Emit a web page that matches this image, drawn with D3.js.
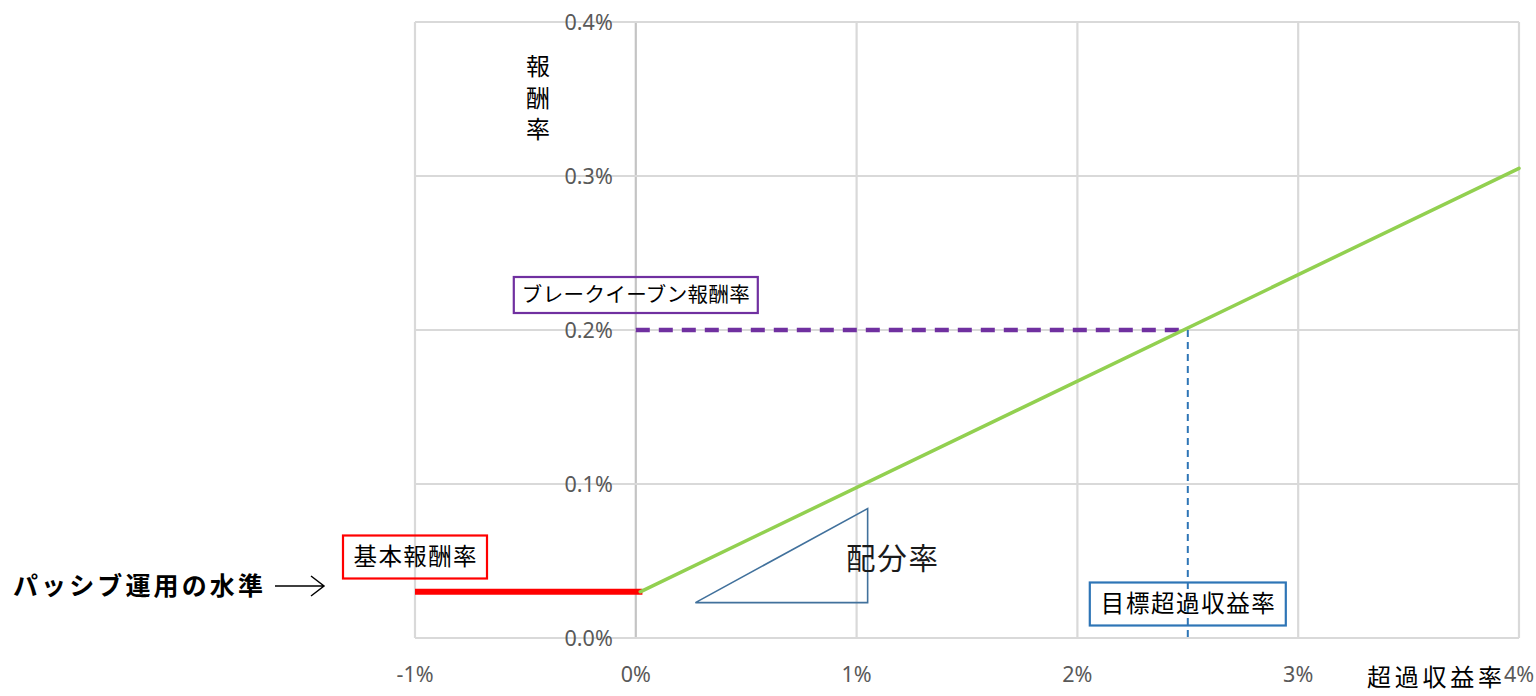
<!DOCTYPE html>
<html>
<head>
<meta charset="UTF-8">
<style>
  body { margin: 0; background: #fff; }
  svg { display: block; }
  .tick { font-family: "Noto Sans", "Open Sans", sans-serif; font-size: 21.5px; fill: #595959; }
  .jp { font-family: "Noto Sans CJK JP", sans-serif; fill: #000; }
</style>
</head>
<body>
<svg width="1536" height="696"></svg>
<script src="https://d3js.org/d3.v7.min.js"></script>
<script>
// ticks (%)
const xTicks = [-1, 0, 1, 2, 3, 4];
const yTicks = [0, 0.1, 0.2, 0.3, 0.4];
const xTickLabels = ["-1%", "0%", "1%", "2%", "3%", "4%"];
const yTickLabels = ["0.0%", "0.1%", "0.2%", "0.3%", "0.4%"];

// series: [excess return %, fee rate %]
const baseFee = [[-1, 0.03], [0.03, 0.03]];
const feeLine = [[0.02, 0.03], [4, 0.305]];
const breakEven = [[0, 0.2], [2.5, 0.2]];
const targetExcess = [[2.5, 0.2], [2.5, 0]];
const slopeTriangle = [[0.27, 0.023], [1.05, 0.084], [1.05, 0.023]];

let width = 1536
let height = 696
let svg = d3.select("svg")

let x = d3.scaleLinear().domain([-1, 4]).range([415, 1519])
let y = d3.scaleLinear().domain([0, 0.4]).range([638, 22])

let line = d3.line().x(d => x(d[0])).y(d => y(d[1]))

// grid
svg.append("g").selectAll("line")
  .data(xTicks)
  .enter().append("line")
  .attr("x1", d => x(d)).attr("x2", d => x(d))
  .attr("y1", y(0.4)).attr("y2", y(0))
  .style("stroke", d => d === 0 ? "#c4c4c4" : "#d9d9d9")
  .style("stroke-width", 2.2)

svg.append("g").selectAll("line")
  .data(yTicks)
  .enter().append("line")
  .attr("x1", x(-1)).attr("x2", x(4))
  .attr("y1", d => y(d)).attr("y2", d => y(d))
  .style("stroke", "#d9d9d9")
  .style("stroke-width", 2.2)

// tick labels
svg.append("g").selectAll("text")
  .data(yTicks)
  .enter().append("text")
  .attr("class", "tick")
  .attr("x", x(0) - 23)
  .attr("y", d => y(d))
  .attr("dy", "0.35em")
  .attr("text-anchor", "end")
  .text((d, i) => yTickLabels[i])

svg.append("g").selectAll("text")
  .data(xTicks)
  .enter().append("text")
  .attr("class", "tick")
  .attr("x", d => x(d))
  .attr("y", 674)
  .attr("dy", "0.35em")
  .attr("text-anchor", "middle")
  .text((d, i) => xTickLabels[i])

// lines
svg.append("path").datum(targetExcess)
  .attr("d", line)
  .style("fill", "none").style("stroke", "#2e75b6")
  .style("stroke-width", 2).style("stroke-dasharray", "7,5")

svg.append("path").datum(breakEven)
  .attr("d", line)
  .style("fill", "none").style("stroke", "#7030a0")
  .style("stroke-width", 4.5).style("stroke-dasharray", "14,9")

svg.append("path").datum(baseFee)
  .attr("d", line)
  .style("fill", "none").style("stroke", "#ff0000")
  .style("stroke-width", 6)

svg.append("path").datum(feeLine)
  .attr("d", line)
  .style("fill", "none").style("stroke", "#92d050")
  .style("stroke-width", 3.5).style("stroke-linecap", "round")

svg.append("path").datum(slopeTriangle)
  .attr("d", d => line(d) + "Z")
  .style("fill", "none").style("stroke", "#41719c")
  .style("stroke-width", 1.6)

// boxed labels
function boxLabel(cx, cy, w, h, txt, size, color, len) {
  svg.append("rect")
    .attr("x", cx - w / 2).attr("y", cy - h / 2)
    .attr("width", w).attr("height", h)
    .style("fill", "none").style("stroke", color).style("stroke-width", 2.2)
  svg.append("text")
    .attr("class", "jp")
    .attr("x", cx).attr("y", cy)
    .attr("dy", "0.36em")
    .attr("text-anchor", "middle")
    .style("font-size", size + "px")
    .attr("textLength", len).attr("lengthAdjust", "spacing")
    .text(txt)
}
boxLabel(x(0), 295, 244, 36, "ブレークイーブン報酬率", 20.5, "#7030a0", 228)
boxLabel(x(-1), 557, 144, 43, "基本報酬率", 23.5, "#ff0000", 123)
boxLabel(x(2.5), 604, 196, 43, "目標超過収益率", 23.5, "#2e75b6", 174)

// axis titles
svg.append("text")
  .attr("class", "jp")
  .attr("x", 538).attr("y", 54)
  .style("writing-mode", "vertical-rl")
  .style("font-size", "24px")
  .style("letter-spacing", "7.5px")
  .text("報酬率")

svg.append("text")
  .attr("class", "jp")
  .attr("x", 1367).attr("y", 686)
  .style("font-size", "24px")
  .attr("textLength", 135).attr("lengthAdjust", "spacing")
  .text("超過収益率")

svg.append("text")
  .attr("class", "jp")
  .attr("x", 846).attr("y", 558)
  .attr("dy", "0.36em")
  .style("font-size", "29.5px")
  .style("fill", "#1a1a1a")
  .attr("textLength", 92).attr("lengthAdjust", "spacing")
  .text("配分率")

// passive level note
svg.append("text")
  .attr("class", "jp")
  .attr("x", 13).attr("y", 586)
  .attr("dy", "0.36em")
  .style("font-size", "25px")
  .style("font-weight", "bold")
  .attr("textLength", 250).attr("lengthAdjust", "spacing")
  .text("パッシブ運用の水準")

svg.append("path")
  .attr("d", "M275,586L324,586M311,576L324,586L311,596")
  .style("fill", "none").style("stroke", "#000").style("stroke-width", 1.5)
</script>
</body>
</html>
